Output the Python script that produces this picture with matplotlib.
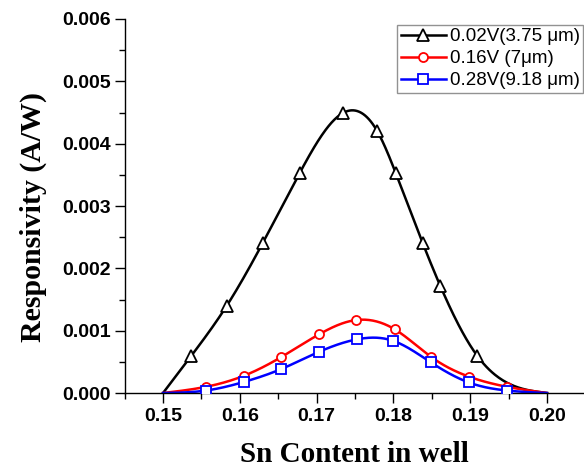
import numpy as np
import matplotlib
matplotlib.use('Agg')
import matplotlib.pyplot as plt
from matplotlib.ticker import MultipleLocator

# Sn content (x) and responsivity in A/W (y)
x_002 = [0.150, 0.1537, 0.1583, 0.1630, 0.1678, 0.1734, 0.1779, 0.1803, 0.1838, 0.1861, 0.1909, 0.200]
y_002 = [0.0, 0.00060, 0.00140, 0.00241, 0.00353, 0.00449, 0.00420, 0.00353, 0.00241, 0.00172, 0.00060, 0.0]

x_016 = [0.150, 0.1556, 0.1606, 0.1653, 0.1703, 0.1751, 0.1802, 0.1849, 0.1899, 0.1948, 0.200]
y_016 = [0.0, 0.00010, 0.00028, 0.00057, 0.00094, 0.00117, 0.00102, 0.00058, 0.00026, 0.00010, 0.0]

x_028 = [0.150, 0.1556, 0.1606, 0.1653, 0.1703, 0.1752, 0.1799, 0.1849, 0.1898, 0.1948, 0.200]
y_028 = [0.0, 0.00004, 0.00018, 0.00038, 0.00066, 0.00086, 0.00084, 0.00049, 0.00017, 0.00004, 0.0]

labels = ['0.02V(3.75 μm)', '0.16V (7μm)', '0.28V(9.18 μm)']


# natural cubic spline, used only to draw the smooth connecting line
def smooth(x, y, n=400):
    x = np.asarray(x, float)
    y = np.asarray(y, float)
    h = np.diff(x)
    k = len(x)
    A = np.zeros((k, k))
    r = np.zeros(k)
    A[0, 0] = A[-1, -1] = 1
    for i in range(1, k - 1):
        A[i, i - 1] = h[i - 1]
        A[i, i] = 2 * (h[i - 1] + h[i])
        A[i, i + 1] = h[i]
        r[i] = 3 * ((y[i + 1] - y[i]) / h[i] - (y[i] - y[i - 1]) / h[i - 1])
    c = np.linalg.solve(A, r)
    b = (y[1:] - y[:-1]) / h - h * (2 * c[:-1] + c[1:]) / 3
    d = (c[1:] - c[:-1]) / (3 * h)
    xs = np.linspace(x[0], x[-1], n)
    idx = np.clip(np.searchsorted(x, xs) - 1, 0, k - 2)
    dx = xs - x[idx]
    ys = y[idx] + b[idx] * dx + c[idx] * dx ** 2 + d[idx] * dx ** 3
    return xs, np.clip(ys, 0, None)


fig = plt.figure(figsize=(5.84, 4.69), dpi=100)
ax = fig.add_axes([0.2134, 0.162, 0.7866, 0.7975])

series = [(x_002, y_002, 'black', '^', 9),
          (x_016, y_016, 'red', 'o', 6.5),
          (x_028, y_028, 'blue', 's', 6.5)]

for (xv, yv, col, mk, ms), lab in zip(series, labels):
    xs, ys = smooth(xv, yv)
    ax.plot(xs, ys, color=col, lw=1.8, zorder=2)
    ax.plot(xv[1:-1], yv[1:-1], ls='none', marker=mk, ms=ms, mfc='white',
            mec=col, mew=1.3, zorder=3)
    ax.plot([], [], color=col, lw=1.8, marker=mk, ms=ms, mfc='white', mec=col,
            mew=1.3, label=lab)

ax.set_xlim(0.145, 0.20482)
ax.set_ylim(0, 0.006)
ax.xaxis.set_minor_locator(MultipleLocator(0.005))
ax.yaxis.set_minor_locator(MultipleLocator(0.0005))
ax.set_xticks([0.15, 0.16, 0.17, 0.18, 0.19, 0.20])
ax.set_xticklabels(['0.15', '0.16', '0.17', '0.18', '0.19', '0.20'])
ax.set_yticks(np.arange(0, 0.0061, 0.001))
ax.set_yticklabels(['%.3f' % v for v in np.arange(0, 0.0061, 0.001)])

for s in ['top', 'right']:
    ax.spines[s].set_visible(False)
for s in ['left', 'bottom']:
    ax.spines[s].set_linewidth(1.0)

ax.tick_params(which='major', direction='out', length=7, width=1.0)
ax.tick_params(which='minor', direction='out', length=4.5, width=1.0)
ax.tick_params(axis='x', pad=4)
ax.tick_params(axis='y', pad=3)
for t in ax.get_xticklabels() + ax.get_yticklabels():
    t.set_fontfamily('Liberation Sans')
    t.set_fontweight('bold')
    t.set_fontsize(14)

ax.set_xlabel('Sn Content in well', fontfamily='Liberation Serif',
              fontweight='bold', fontsize=21)
ax.set_ylabel('Responsivity (A/W)', fontfamily='Liberation Serif',
              fontweight='bold', fontsize=21.5)
ax.xaxis.set_label_coords(0.5, -0.128)
ax.yaxis.set_label_coords(-0.17, 0.47)

leg = ax.legend(loc='upper left', bbox_to_anchor=(0.593, 0.985),
                prop={'family': 'Liberation Sans', 'size': 13.5},
                frameon=True, fancybox=False, handlelength=2.4,
                handletextpad=0.2, labelspacing=0.25, borderpad=0.2,
                borderaxespad=0.0)
leg.get_frame().set_edgecolor('#777777')
leg.get_frame().set_linewidth(1.0)

fig.savefig('out.png', dpi=100)
